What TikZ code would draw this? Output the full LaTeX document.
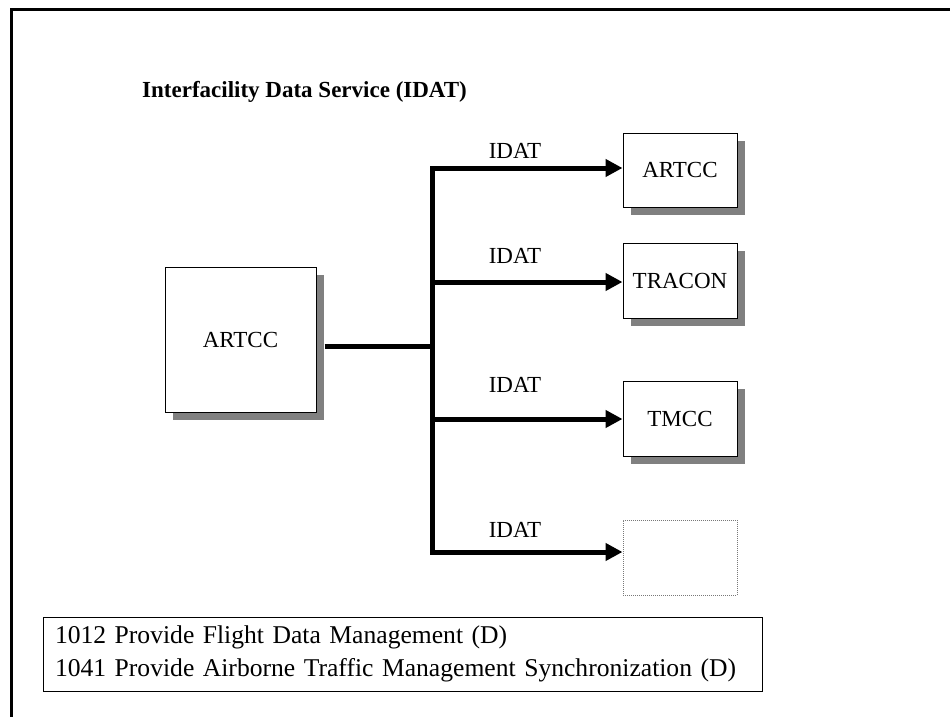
\documentclass[tikz,border=0pt]{standalone}
\usepackage{fontspec}
\setmainfont{Liberation Serif}
\usepackage{tikz}
\usetikzlibrary{arrows.meta, positioning, shadows}
\definecolor{boxshadow}{RGB}{128, 128, 128}
\definecolor{dotgray}{RGB}{120, 120, 120}
\tikzset{
  facbox/.style={draw=black, line width=1pt, fill=white, inner sep=0pt,
    font=\fontsize{23}{27}\selectfont,
    drop shadow={shadow xshift=8pt, shadow yshift=-8pt, fill=boxshadow, opacity=1}},
  busline/.style={line width=5pt},
  flowarrow/.style={line width=5pt, -{Triangle[length=17pt, width=17pt]}},
  flowlabel/.style={font=\fontsize{23}{27}\selectfont, inner sep=0pt}
}

\begin{document}
\begin{tikzpicture}[x=1pt, y=-1pt]
  \useasboundingbox (0,0) rectangle (950,717);
  \fill[white] (0,0) rectangle (950,717);
  % page frame
  \draw[line width=3pt] (11.5,717) -- (11.5,9.5) -- (950,9.5);

  \node[anchor=base west, inner sep=0pt, font=\bfseries\fontsize{23}{27}\selectfont] (title) at (142,97) {Interfacility Data Service (IDAT)};

  % facilities
  \node[facbox, minimum width=151pt, minimum height=145pt] (src) at (240.5,339.5) {ARTCC};
  \node[facbox, minimum width=114pt, minimum height=74pt] (dst1) at (680,170) {ARTCC};
  \node[facbox, minimum width=114pt, minimum height=75pt] (dst2) at (680,280.5) {TRACON};
  \node[facbox, minimum width=114pt, minimum height=75pt] (dst3) at (680,418.5) {TMCC};
  \node[draw=dotgray, dash pattern=on 1pt off 1pt, line width=1pt, minimum width=114pt, minimum height=75pt] (dst4) at (680,557.5) {};

  % distribution bus
  \coordinate (hub) at (432,346);
  \coordinate (j1) at (432,168);
  \coordinate (j2) at (432,282);
  \coordinate (j3) at (432,419);
  \coordinate (j4) at (432,552);
  \draw[busline, shorten <=8pt] (hub -| src.east) -- (hub);
  \draw[busline, line cap=rect] (j1) -- (j4);
  \draw[flowarrow] (j1) -- (j1 -| dst1.west);
  \draw[flowarrow] (j2) -- (j2 -| dst2.west);
  \draw[flowarrow] (j3) -- (j3 -| dst3.west);
  \draw[flowarrow] (j4) -- (j4 -| dst4.west);

  \node[flowlabel] (lbl1) at (515,151) {IDAT};
  \node[flowlabel] (lbl2) at (515,256) {IDAT};
  \node[flowlabel] (lbl3) at (515,385) {IDAT};
  \node[flowlabel] (lbl4) at (515,530) {IDAT};

  % functions
  \node[draw, line width=1pt, minimum width=719pt, minimum height=74pt, text width=695pt, align=left, inner sep=0pt, font=\fontsize{25.6}{33}\selectfont] (funcs) at (402.5,654) {
    1012 Provide Flight Data Management (D)\\
    1041 Provide Airborne Traffic Management Synchronization (D)
  };
\end{tikzpicture}
\end{document}
